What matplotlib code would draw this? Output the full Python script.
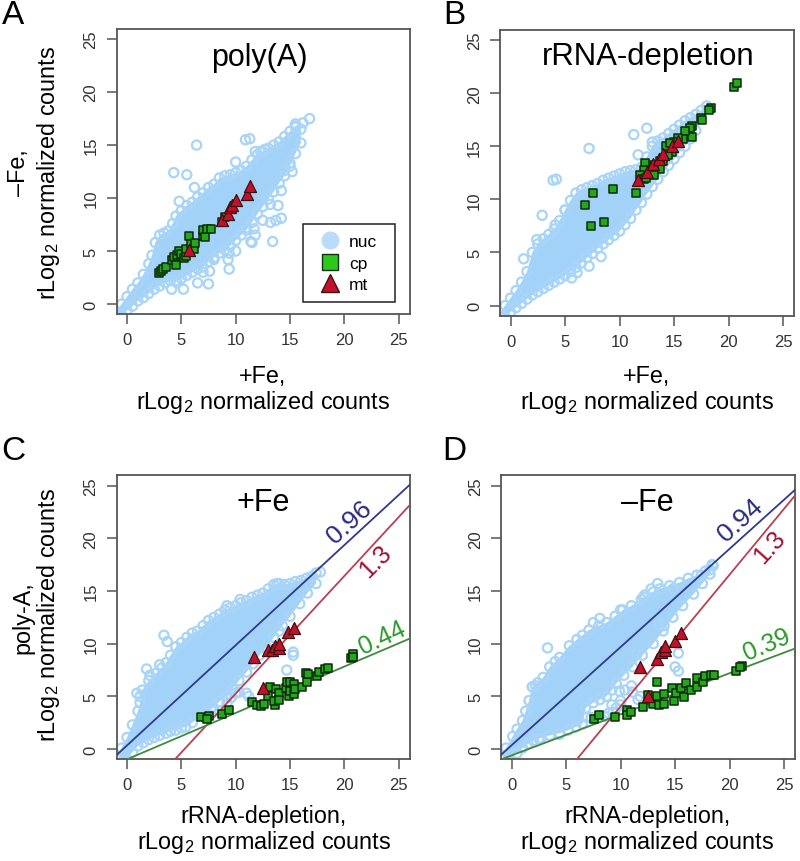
import matplotlib
matplotlib.use('Agg')
import matplotlib.pyplot as plt
from matplotlib.lines import Line2D

plt.rcParams['font.family'] = ['Liberation Sans', 'DejaVu Sans']
plt.rcParams['mathtext.default'] = 'regular'

# panel A, poly(A)
a_up_x = [-1, -0.5, 0, 0.5, 1, 1.5, 2, 2.3, 2.6, 3, 3.4, 3.8, 4.2, 4.5, 5, 5.5, 6, 6.5, 7, 7.5, 8, 8.5, 9, 9.5, 10, 10.5, 11, 11.5, 12, 12.5, 13, 13.5, 14, 14.5, 15, 15.5, 16]
a_up_y = [-0.7, 0, 0.7, 1.4, 2, 2.8, 3.8, 4.6, 5.8, 6.5, 6.7, 6.9, 7.6, 8.3, 8.8, 9.3, 9.6, 10.1, 10.5, 11, 11.3, 11.9, 12.1, 12.2, 12.4, 12.6, 13, 13.6, 14.1, 14.4, 14.7, 15, 15.3, 15.8, 16.3, 16.8, 16.5]
a_lo_x = [-0.5, 0, 0.5, 1, 1.5, 2, 2.5, 3, 3.5, 4, 4.5, 5, 5.5, 6, 6.5, 7, 7.5, 8, 8.5, 9, 9.5, 10, 10.5, 11, 11.5, 12, 12.5, 13, 13.5, 14, 14.5, 15, 15.5, 16]
a_lo_y = [-1, -0.6, -0.2, 0.3, 0.6, 1, 1.4, 1.7, 2, 2.2, 2.2, 2.4, 2.7, 3, 3.3, 3.5, 4, 4.4, 4.8, 5.1, 5.5, 6, 6.5, 7, 7.7, 8.5, 9.2, 9.9, 10.6, 11.4, 12.1, 13, 14.2, 15.2]
a_out_x = [6.4, 4.3, 5.5, 6.2, 4.8, 10, 10.9, 11.3, 11.8, 12.3, 12.7, 16.8, 16.2, 15.5, 15.5, 15, 15.2, 14.5, 14.2, 13.9, 13.2, 14.2, 13.7, 13.2, 12.5, 11.7, 11.8, 11, 11.4, 11.5, 13.4, 9.4, 9.3, 9.4, 7.6, 7.5, 6.5, 5.2, 4.1, 4.6, 8, 7, 10]
a_out_y = [15, 12.4, 12.2, 11, 9.7, 13.4, 15.5, 15.6, 14.4, 14.4, 14.6, 17.5, 17.1, 17, 16.7, 13.3, 12.5, 12.6, 10.7, 9.3, 9.4, 8.1, 7.9, 7.7, 7.9, 7.1, 6.5, 7.2, 5.9, 5.8, 5.9, 4.8, 4.2, 3.3, 3.1, 1.9, 2, 1.4, 1.4, 2, 4.2, 3, 5]
a_cp_x = [2.9, 3.1, 3.3, 3.6, 4.1, 4.3, 4.5, 4.6, 4.8, 5, 5.2, 5.4, 5.4, 5.7, 5.9, 6.2, 6.3, 7, 7, 7.2, 7.4, 7.7, 8.7, 9]
a_cp_y = [2.9, 3.1, 3.3, 3.5, 4.2, 4.4, 3.7, 4.6, 5, 4.7, 4.3, 4.5, 5.2, 6.4, 5.7, 5.2, 5.8, 6.4, 7, 6.3, 7.1, 7.1, 7.7, 8.2]
a_mt_x = [5.7, 8.7, 9.3, 9.5, 9.7, 10, 11, 11.3]
a_mt_y = [5.1, 7.9, 8.5, 9.2, 9.3, 9.8, 10.4, 11.1]

# panel B, rRNA-depletion
b_up_x = [-1, -0.5, 0, 0.5, 1, 1.5, 2, 2.5, 3, 3.5, 4, 4.5, 5, 5.5, 6, 6.5, 7, 7.5, 8, 8.5, 9, 9.5, 10, 10.5, 11, 11.5, 12, 12.5, 13, 13.5, 14, 14.5, 15, 15.5, 16, 16.5, 17, 17.5, 18]
b_up_y = [-0.7, 0, 0.7, 1.4, 2.2, 3.2, 5, 5.8, 6.3, 6.7, 7.2, 8, 9, 9.9, 10.6, 10.9, 11.1, 11.3, 11.5, 11.8, 12, 12.2, 12.4, 12.6, 12.7, 12.8, 13, 14, 15, 15.5, 15.8, 16.2, 16.6, 17, 17.4, 17.7, 18, 18.4, 18.8]
b_lo_x = [-0.5, 0, 0.5, 1, 1.5, 2, 2.5, 3, 3.5, 4, 4.5, 5, 5.5, 6, 6.5, 7, 7.5, 8, 8.5, 9, 9.5, 10, 10.5, 11, 11.5, 12, 12.5, 13, 13.5, 14, 14.5, 15, 15.5, 16, 16.5, 17]
b_lo_y = [-1, -0.6, -0.2, 0.2, 0.6, 1, 1.3, 1.6, 1.9, 2.2, 2.5, 2.8, 3.2, 3.6, 4, 4.5, 4.9, 5.4, 5.8, 6.2, 6.6, 7, 7.6, 8.2, 9, 9.7, 10.5, 11.2, 11.9, 12.6, 13.2, 13.8, 14.4, 15, 15.7, 16.5]
b_out_x = [7.2, 11.3, 12.5, 3.9, 4.2, 2.9, 1.2, 2.4, 5, 8.3, 7.2, 5.6, 6.1, 11.7, 13, 4.1]
b_out_y = [14.8, 16.1, 16.7, 11.8, 11.9, 8.5, 4.4, 6.2, 9, 4.6, 3.7, 2.6, 3.1, 14.2, 15.4, 7.6]
b_cp_x = [20.5, 20.8, 18.4, 18.2, 17.5, 17.6, 16.6, 16.5, 16.6, 16, 15.8, 15.4, 15, 14.8, 14.3, 14.6, 14.4, 14, 13.7, 13.7, 13.2, 13.2, 12.3, 12.2, 11.9, 12.2, 12.4, 11.5, 9.4, 7.6, 6.8, 8.6, 7.4]
b_cp_y = [20.6, 21, 18.6, 18.4, 17.7, 17.5, 16.9, 16.7, 15.9, 16.4, 15.7, 15.8, 15.4, 14.5, 15, 15.3, 14.2, 13.6, 13.6, 12.9, 13.2, 12.3, 13.4, 12.8, 12.3, 11.9, 12, 10.6, 11, 10.6, 9.5, 7.9, 7.5]
b_mt_x = [11.7, 12.5, 13.1, 13.6, 14, 14.8, 15.4]
b_mt_y = [11.8, 12.6, 13.3, 13.8, 14.3, 15, 15.5]

# panel C, +Fe
c_up_x = [-1, -0.5, 0, 0.5, 1, 1.2, 1.4, 2, 2.7, 3.2, 3.6, 4, 4.5, 5, 5.5, 6, 6.5, 7, 7.5, 8, 8.5, 9, 9.5, 10, 10.5, 11, 11.5, 12, 12.5, 13, 13.5, 14, 14.5, 15, 15.5, 16, 16.5, 17, 17.4]
c_up_y = [-0.6, 0.1, 1.1, 2.3, 3.6, 4.4, 5.6, 6.5, 7.2, 7.7, 8.2, 8.9, 9.7, 10.1, 10.6, 11, 11.2, 11.7, 12.2, 12.5, 12.8, 13.2, 13.4, 13.6, 13.9, 14.1, 14.4, 14.6, 14.8, 15.2, 15.6, 15.7, 15.6, 15.7, 15.9, 16, 16.2, 16.4, 16.7]
c_lo_x = [-0.1, 0.5, 1, 1.5, 2, 2.5, 3, 3.6, 4, 4.5, 5, 5.4, 6, 6.7, 7.3, 7.9, 8.5, 9.1, 9.7, 10.3, 11, 11.6, 12.2, 12.8, 13.5, 14.3, 15, 15.9, 16.6, 17.4]
c_lo_y = [-1, -0.3, 0.3, 0.6, 0.9, 1.1, 1.3, 1.5, 1.7, 1.8, 2, 2.1, 2.5, 3.1, 3.5, 4, 4.5, 5, 5.7, 6.5, 7.3, 8.1, 8.9, 9.7, 10.6, 11.7, 12.6, 13.8, 14.8, 15.7]
c_out_x = [3.4, 3.7, 1.8, 2.1, 1.2, 0.9, 3, 9.2, 10.4, 13.8, 17.8, 15.3, 15.3, 14.7, 11, 11.2, 10.3, 10, 9.6, 9.2, 8.5, 8, 14]
c_out_y = [10.8, 10.2, 7.6, 7, 5, 5.3, 8, 13.6, 14.2, 15.7, 16.8, 9.2, 8.9, 7.5, 5.3, 5, 5.4, 5.3, 4.9, 4.4, 3.6, 3.6, 11.2]
c_cp_x = [6.8, 7.5, 7.4, 8.7, 9.4, 11.5, 12, 12.3, 12.6, 13, 13.2, 13.7, 13.6, 13.5, 14, 14, 14.6, 14.7, 15, 14.9, 15, 15.4, 15.4, 15.5, 16.1, 16.6, 16.5, 16.7, 17.5, 17.7, 18.2, 18.5, 20.6, 20.8, 20.8]
c_cp_y = [3, 3.1, 2.9, 3.3, 3.7, 4.5, 4.2, 4.1, 4.3, 5, 5.9, 5.7, 4.2, 4.6, 5.3, 4.7, 5.8, 6.4, 6.4, 5, 5.5, 6.2, 5.2, 5.7, 5.9, 6.4, 7.2, 7.1, 6.9, 7.3, 7.6, 7.7, 8.6, 9, 8.7]
c_mt_x = [11.7, 12.5, 13, 13.3, 13.6, 14, 14, 14.8, 15.4]
c_mt_y = [8.7, 5.8, 9.4, 9.4, 9.8, 9.6, 10, 11.1, 11.5]

# panel D, -Fe
d_up_x = [-1, -0.5, 0.1, 0.5, 1, 1.3, 1.6, 1.9, 2.4, 2.9, 3.5, 4, 4.4, 5.3, 6, 6.5, 7.1, 8, 8.7, 9.5, 10.2, 11, 12.1, 13, 13.6, 14.5, 15.4, 16.2, 17, 17.8, 18.5]
d_up_y = [-0.6, 0.1, 1.2, 1.9, 2.7, 3.6, 4.6, 5.9, 6.3, 6.8, 7.8, 8.3, 8.7, 9.8, 10.4, 10.8, 11.3, 11.7, 12, 12.6, 13.2, 13.6, 14.4, 14.9, 15.2, 15.5, 15.8, 16.2, 16.5, 16.9, 17.4]
d_lo_x = [-0.2, 0.5, 1, 1.5, 2, 2.5, 3.5, 4.4, 5.2, 5.9, 6.5, 6.8, 7.5, 8.1, 8.7, 9.2, 9.6, 10.3, 11.1, 12, 13, 13.9, 14.8, 15.7, 16.7, 17.5, 18.2]
d_lo_y = [-1, -0.4, 0.1, 0.5, 0.8, 1, 1.3, 1.5, 1.8, 2.1, 2.4, 3.9, 4.4, 4.7, 5, 5.6, 6.2, 7, 7.8, 8.9, 10, 11.2, 12.5, 13.6, 14.7, 15.7, 16.6]
d_out_x = [3.3, 1.9, 2.2, 8.1, 7.5, 10, 13.4, 12.2, 12.8, 11.9, 14.8, 15.3, 15, 15.3, 18.2, 18.4, 17.4, 4.4, 2.7, 13.5, 14, 11.5,
           6.9, 7.3, 7.7, 8.1, 8.5, 8.9, 9.3, 9.6, 9.2, 10, 10, 9.9, 10.4, 11, 11.1, 11.8, 11.6]
d_out_y = [9.6, 5.9, 6, 12.4, 12, 13.2, 15.7, 14.6, 15.2, 14.2, 15.2, 9.1, 7.8, 7.4, 17, 17.5, 16.5, 1.4, 1, 11.8, 11.7, 9,
           3, 3, 3, 3.2, 3.1, 3.4, 3.5, 3.9, 4.2, 4.2, 4.6, 5.5, 5.6, 6, 5.4, 5, 4.7]
d_cp_x = [7.6, 8, 9.5, 10.6, 10.6, 11, 12.1, 12.5, 13, 13.3, 13.3, 13.5, 14, 14, 14.7, 14.9, 15.1, 15.5, 15.8, 16, 16.5, 17, 17, 17.6, 17.7, 18.3, 18.6, 20.6, 21.1, 21]
d_cp_y = [2.9, 3.2, 3, 3.7, 3.2, 3.5, 4, 5.1, 4.3, 6.4, 5, 4.2, 4.3, 5.2, 5.8, 4.6, 5.3, 5.8, 4.9, 6.3, 5.6, 5.9, 6.7, 6.4, 6.9, 7, 7, 7.4, 7.9, 7.8]
d_mt_x = [11.75, 12.5, 13.3, 13.7, 14.1, 14.1, 15, 15.5]
d_mt_y = [7.8, 5, 8.5, 9.2, 9.4, 9.8, 10.3, 11]

# fitted lines, slope and intercept as they sit on the plot
c_blue = (0.95, 0.35)
c_red = (1.116, -5.9)
c_green = (0.44, -0.97)
d_blue = (0.932, 0.36)
d_red = (1.25, -8.45)
d_green = (0.39, -0.6)

ticks = [0, 5, 10, 15, 20, 25]

W, H = 800, 862
CLOUD = '#A3D2F8'
RING = '#A8D4F8'
GREEN = '#24A81A'
RED = '#C4102A'
BLUE_LINE = '#2E3A8C'
RED_LINE = '#B8404F'
GREEN_LINE = '#3F8A3F'


def panel(left, right, top, bottom):
    ax = fig.add_axes([left / W, 1 - bottom / H, (right - left) / W, (bottom - top) / H])
    ax.set_xlim(-0.97, 26)
    ax.set_ylim(-0.94, 26)
    ax.set_xticks(ticks)
    ax.set_yticks(ticks)
    ax.tick_params(length=7, width=1.1, color='#555555', labelcolor='#333333', labelsize=12, pad=6)
    plt.setp(ax.get_yticklabels(), rotation=90, va='center')
    for s in ax.spines.values():
        s.set_color('#555555')
        s.set_linewidth(1.3)
    return ax


def cloud(ax, up_x, up_y, lo_x, lo_y, out_x, out_y):
    ax.fill(up_x + lo_x[::-1], up_y + lo_y[::-1], color=CLOUD, lw=0, zorder=1)
    ax.scatter(up_x + lo_x + out_x, up_y + lo_y + out_y, s=44, facecolors='none',
               edgecolors=RING, linewidths=1.6, zorder=2)


def marks(ax, cp_x, cp_y, mt_x, mt_y):
    ax.scatter(cp_x, cp_y, s=32, marker='s', color=GREEN, edgecolors='#0C2A0C', linewidths=1.1, zorder=4)
    ax.scatter(mt_x, mt_y, s=75, marker='^', color=RED, edgecolors='#401010', linewidths=0.9, zorder=5)


def fit(ax, line, color):
    xs = [-1, 26]
    ax.plot(xs, [line[0] * x + line[1] for x in xs], color=color, lw=1.3, zorder=3)


def put(x, y, s, **kw):
    # x, y in picture pixels
    fig.text(x / W, 1 - y / H, s, ha='center', va='center', **kw)


fig = plt.figure(figsize=(W / 100, H / 100), dpi=100)

ax_a = panel(116.5, 409.5, 29.5, 315)
cloud(ax_a, a_up_x, a_up_y, a_lo_x, a_lo_y, a_out_x, a_out_y)
marks(ax_a, a_cp_x, a_cp_y, a_mt_x, a_mt_y)

ax_b = panel(500, 794, 30.5, 316.5)
cloud(ax_b, b_up_x, b_up_y, b_lo_x, b_lo_y, b_out_x, b_out_y)
marks(ax_b, b_cp_x, b_cp_y, b_mt_x, b_mt_y)

ax_c = panel(116.5, 409.5, 476, 760)
cloud(ax_c, c_up_x, c_up_y, c_lo_x, c_lo_y, c_out_x, c_out_y)
fit(ax_c, c_blue, BLUE_LINE)
fit(ax_c, c_red, RED_LINE)
fit(ax_c, c_green, GREEN_LINE)
marks(ax_c, c_cp_x, c_cp_y, c_mt_x, c_mt_y)

ax_d = panel(501, 795, 476, 760)
cloud(ax_d, d_up_x, d_up_y, d_lo_x, d_lo_y, d_out_x, d_out_y)
fit(ax_d, d_blue, BLUE_LINE)
fit(ax_d, d_red, RED_LINE)
fit(ax_d, d_green, GREEN_LINE)
marks(ax_d, d_cp_x, d_cp_y, d_mt_x, d_mt_y)

# legend in A
handles = [
    Line2D([], [], ls='', marker='o', ms=12, mfc='#BBDCF8', mec='#BBDCF8', label='nuc'),
    Line2D([], [], ls='', marker='s', ms=11, mfc='#2CC81C', mec='#103010', label='cp'),
    Line2D([], [], ls='', marker='^', ms=13, mfc=RED, mec='#401010', label='mt'),
]
leg = ax_a.legend(handles=handles, loc='lower left', bbox_to_anchor=(0.636, 0.042, 0.314, 0.277),
                  mode='expand', fontsize=12.5, fancybox=False, framealpha=1, edgecolor='#222222',
                  borderaxespad=0, handletextpad=0.1, labelspacing=0.38, borderpad=0.55)
leg.get_frame().set_linewidth(1.1)
leg.set_zorder(10)

# panel letters
for s, x, y in [('A', 13, 16), ('B', 454, 16), ('C', 13, 452), ('D', 454, 452)]:
    put(x, y, s, fontsize=24, color='black')

# titles
put(259, 58, 'poly(A)', fontsize=22)
put(648, 57, 'rRNA-depletion', fontsize=22.4)
put(263, 503, '+Fe', fontsize=22)
put(647, 503, '\u2013Fe', fontsize=22)

# axis labels
rl = 'rLog$_2$ normalized counts'
put(263, 377, '+Fe,', fontsize=16.8)
put(263, 403, rl, fontsize=16.8)
put(647, 377, '+Fe,', fontsize=16.8)
put(647, 403, rl, fontsize=16.8)
put(264, 817, 'rRNA-depletion,', fontsize=16.8)
put(264, 843, rl, fontsize=16.8)
put(647, 817, 'rRNA-depletion,', fontsize=16.8)
put(647, 843, rl, fontsize=16.8)
put(19, 173, '\u2013Fe,', fontsize=16.8, rotation=90)
put(49, 173, rl, fontsize=16.8, rotation=90)
put(23, 618, 'poly-A,', fontsize=16.8, rotation=90)
put(49, 615, rl, fontsize=16.8, rotation=90)

# slope labels
put(349, 523, '0.96', fontsize=19, rotation=42, color='#2B2B80')
put(375, 562, '1.3', fontsize=18, rotation=45, color='#A01030')
put(382, 638, '0.44', fontsize=18, rotation=25, color='#2A9A2A')
put(740, 521, '0.94', fontsize=19, rotation=42, color='#2B2B80')
put(770, 547, '1.3', fontsize=18, rotation=48, color='#A01030')
put(767, 645, '0.39', fontsize=18, rotation=23, color='#2A9A2A')

fig.savefig('out.png', dpi=100)
